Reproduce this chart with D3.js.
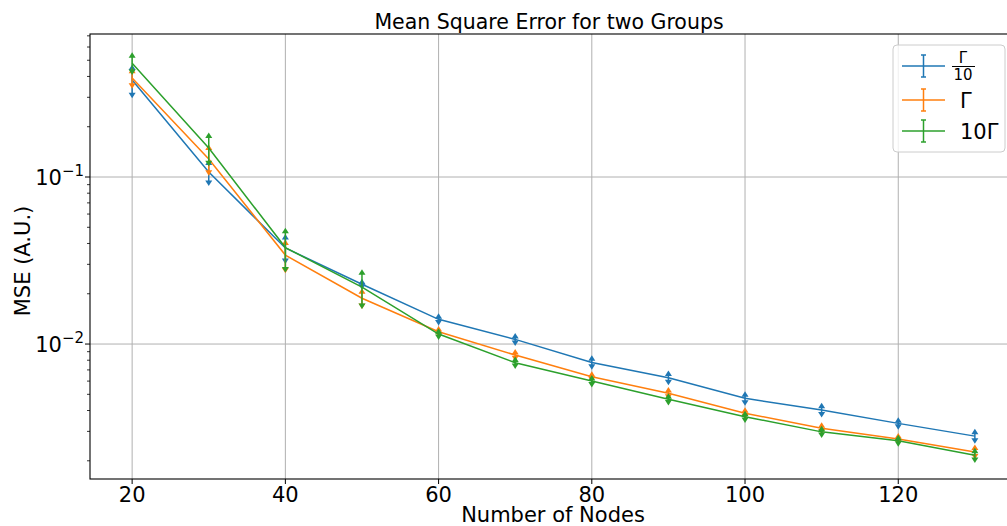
<!DOCTYPE html>
<html>
<head>
<meta charset="utf-8">
<script src="https://cdn.jsdelivr.net/npm/d3@7"></script>
<style>
  body { margin: 0; background: white; }
  text { font-family: "DejaVu Sans", sans-serif; fill: black; }
</style>
</head>
<body>
<div id="chart"></div>
<script>
const nodes = [20, 30, 40, 50, 60, 70, 80, 90, 100, 110, 120, 130];

// Γ/10
const mseTenth = [0.381, 0.107, 0.0376, 0.0228, 0.01406, 0.01066, 0.00776, 0.00628, 0.00473, 0.00403, 0.00335, 0.00281];
const errTenth = [0.072, 0.015, 0.0062, 0.0008, 0.0006, 0.00052, 0.00046, 0.00038, 0.00028, 0.00024, 0.00015, 0.00017];
// Γ
const mseGamma = [0.392, 0.128, 0.0341, 0.0188, 0.01185, 0.00859, 0.00637, 0.00507, 0.00385, 0.00313, 0.0027, 0.00226];
const errGamma = [0.04, 0.022, 0.0064, 0.0019, 0.00045, 0.00036, 0.00022, 0.00024, 0.00016, 0.00013, 0.00011, 0.00014];
// 10Γ
const mseTen = [0.48, 0.149, 0.0378, 0.0219, 0.01148, 0.00773, 0.006, 0.00467, 0.00367, 0.00298, 0.00264, 0.00216];
const errTen = [0.055, 0.028, 0.0099, 0.005, 0.00045, 0.00034, 0.00027, 0.0002, 0.00016, 0.00013, 0.00011, 0.00014];

const xTicks = [20, 40, 60, 80, 100, 120];
const yTicks = [0.1, 0.01];

const series = [
  {name: "tenth", color: "#1f77b4", y: mseTenth, err: errTenth},
  {name: "gamma", color: "#ff7f0e", y: mseGamma, err: errGamma},
  {name: "ten", color: "#2ca02c", y: mseTen, err: errTen}
];

const W = 1007, H = 526;
const margin = {left: 90, right: -10, top: 34, bottom: 47};

const svg = d3.select("#chart").append("svg")
    .attr("width", W)
    .attr("height", H);

const x = d3.scaleLinear()
    .domain([14.5, 135.5])
    .range([margin.left, W - margin.right]);

const y = d3.scaleLog()
    .domain([0.001556, 0.718])
    .range([H - margin.bottom, margin.top]);

// grid
const grid = svg.append("g");
xTicks.forEach(t => grid.append("line")
    .attr("x1", x(t)).attr("x2", x(t))
    .attr("y1", y.range()[0]).attr("y2", y.range()[1])
    .attr("stroke", "#b0b0b0").attr("stroke-width", 1));
yTicks.forEach(t => grid.append("line")
    .attr("x1", x.range()[0]).attr("x2", x.range()[1])
    .attr("y1", y(t)).attr("y2", y(t))
    .attr("stroke", "#b0b0b0").attr("stroke-width", 1));

// series
const line = d3.line().x((d, i) => x(nodes[i])).y(d => y(d));

const caret = (cx, cy, up) => {
  const s = up ? -1 : 1;
  return `M${cx - 3.5},${cy - s * 2.5}L${cx + 3.5},${cy - s * 2.5}L${cx},${cy + s * 3}Z`;
};

series.forEach(s => {
  const g = svg.append("g");
  g.append("path")
      .datum(s.y)
      .attr("d", line)
      .attr("fill", "none")
      .attr("stroke", s.color)
      .attr("stroke-width", 1.5);
  s.y.forEach((v, i) => {
    const cx = x(nodes[i]);
    const top = y(v + s.err[i]), bot = y(v - s.err[i]);
    g.append("line")
        .attr("x1", cx).attr("x2", cx)
        .attr("y1", top).attr("y2", bot)
        .attr("stroke", s.color).attr("stroke-width", 1.5);
    g.append("path").attr("d", caret(cx, top, true)).attr("fill", s.color);
    g.append("path").attr("d", caret(cx, bot, false)).attr("fill", s.color);
  });
});

// spines
const x0 = x.range()[0], x1 = x.range()[1], yb = y.range()[0], yt = y.range()[1];
svg.append("rect")
    .attr("x", x0).attr("y", yt)
    .attr("width", x1 - x0).attr("height", yb - yt)
    .attr("fill", "none").attr("stroke", "black").attr("stroke-width", 1.1);

// x axis ticks
xTicks.forEach(t => {
  svg.append("line").attr("x1", x(t)).attr("x2", x(t))
      .attr("y1", yb).attr("y2", yb + 5).attr("stroke", "black");
  svg.append("text").attr("x", x(t)).attr("y", yb + 23)
      .attr("text-anchor", "middle").attr("font-size", 21).text(t);
});

// y axis ticks (log)
yTicks.forEach(t => {
  svg.append("line").attr("x1", x0 - 5).attr("x2", x0)
      .attr("y1", y(t)).attr("y2", y(t)).attr("stroke", "black");
  const txt = svg.append("text").attr("x", x0 - 6).attr("y", y(t) + 8)
      .attr("text-anchor", "end").attr("font-size", 21);
  txt.append("tspan").text("10");
  txt.append("tspan").attr("dy", -9).attr("font-size", 15).text("\u2212" + Math.round(-Math.log10(t)));
});
const minor = [];
[0.001, 0.01, 0.1].forEach(d => d3.range(2, 10).forEach(k => minor.push(d * k)));
minor.filter(v => v > y.domain()[0] && v < y.domain()[1]).forEach(v => {
  svg.append("line").attr("x1", x0 - 3).attr("x2", x0)
      .attr("y1", y(v)).attr("y2", y(v)).attr("stroke", "black").attr("stroke-width", 0.8);
});

// labels
svg.append("text").attr("x", 549).attr("y", 29)
    .attr("text-anchor", "middle").attr("font-size", 20.5)
    .text("Mean Square Error for two Groups");
svg.append("text").attr("x", 553).attr("y", 522)
    .attr("text-anchor", "middle").attr("font-size", 21)
    .text("Number of Nodes");
svg.append("text")
    .attr("transform", "translate(30,261) rotate(-90)")
    .attr("text-anchor", "middle").attr("font-size", 21)
    .text("MSE (A.U.)");

// legend
const lg = svg.append("g");
lg.append("rect")
    .attr("x", 893).attr("y", 45).attr("width", 112).attr("height", 107)
    .attr("rx", 4)
    .attr("fill", "white").attr("fill-opacity", 0.8)
    .attr("stroke", "#cccccc").attr("stroke-width", 1);
const legendY = [66, 100, 131];
series.forEach((s, i) => {
  const ly = legendY[i];
  lg.append("line").attr("x1", 902).attr("x2", 945)
      .attr("y1", ly).attr("y2", ly).attr("stroke", s.color).attr("stroke-width", 1.5);
  lg.append("line").attr("x1", 923.5).attr("x2", 923.5)
      .attr("y1", ly - 11).attr("y2", ly + 11).attr("stroke", s.color).attr("stroke-width", 1.5);
  [ly - 11, ly + 11].forEach(cy => lg.append("line")
      .attr("x1", 921).attr("x2", 926).attr("y1", cy).attr("y2", cy)
      .attr("stroke", s.color).attr("stroke-width", 1.5));
});
// Γ/10 fraction
lg.append("text").attr("x", 963).attr("y", 63).attr("text-anchor", "middle")
    .attr("font-size", 15).text("Γ");
lg.append("line").attr("x1", 952).attr("x2", 975).attr("y1", 66.5).attr("y2", 66.5)
    .attr("stroke", "black").attr("stroke-width", 1);
lg.append("text").attr("x", 963).attr("y", 80).attr("text-anchor", "middle")
    .attr("font-size", 15).text("10");
lg.append("text").attr("x", 960).attr("y", 108).attr("font-size", 21).text("Γ");
lg.append("text").attr("x", 960).attr("y", 139).attr("font-size", 21).text("10Γ");
</script>
</body>
</html>
